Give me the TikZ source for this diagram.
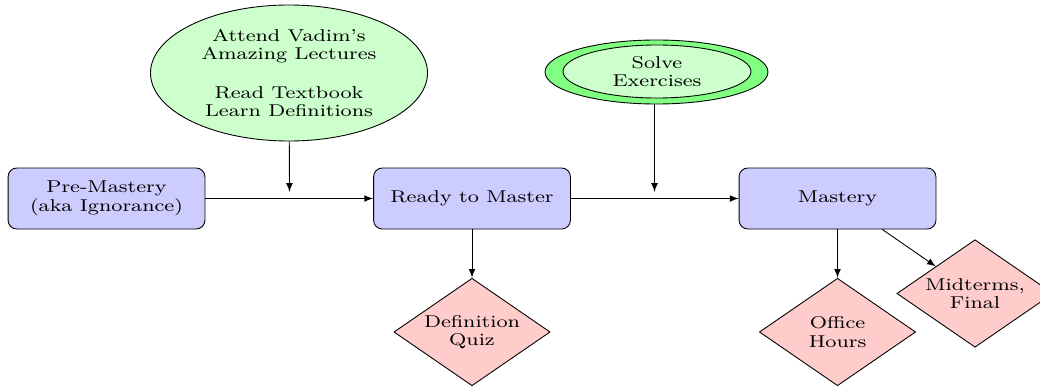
\documentclass[tikz,border=0pt]{standalone}
\usepackage{fontspec}
\setmainfont{lmroman8-regular.otf}[FakeStretch=1.22]
\usetikzlibrary{shapes.geometric}

\begin{document}
\begin{tikzpicture}[font=\fontsize{7.8}{8.4}\selectfont, >=latex,
    box/.style={draw, rounded corners, fill=blue!20, minimum width=3.15cm, minimum height=0.976cm, align=center},
    bubble/.style={draw, ellipse, fill=green!20, inner sep=0pt, align=center},
    check/.style={draw, diamond, aspect=1.45, fill=red!20, inner sep=0pt, minimum width=2.5cm, minimum height=1.72cm, align=center}]
    \useasboundingbox (0,0) rectangle (16.64,-6.192);
    \coordinate (m1) at (4.632,-3.072); \coordinate (m2) at (10.472,-3.072);

    % Stages
    \node[box] (pre) at (1.704,-3.176) {Pre-Mastery\\(aka Ignorance)};
    \node[box] (ready) at (7.552,-3.176) {Ready to Master};
    \node[box] (mastery) at (13.4,-3.176) {Mastery};

    % What moves you along
    \node[bubble, minimum width=4.432cm, minimum height=2.176cm] (lect) at (4.624,-1.168) {Attend Vadim's\\Amazing Lectures\\[9pt]Read Textbook\\Learn Definitions};
    \node[bubble, fill=green!50, minimum width=3.568cm, minimum height=1.024cm] (solveout) at (10.504,-1.152) {};
    \node[bubble, minimum width=3.008cm, minimum height=0.848cm] (solve) at (10.512,-1.144) {Solve\\Exercises};

    % Checks
    \node[check] (quiz) at (7.552,-5.312) {Definition\\Quiz};
    \node[check] (office) at (13.4,-5.312) {Office\\Hours};
    \node[check] (midterm) at (15.6,-4.696) {Midterms,\\Final};

    % Flow
    \draw[->] (pre) -- (ready);
    \draw[->] (ready) -- (mastery);
    \draw[->] (lect) -- (m1);
    \draw[->] (solveout.south -| m2) -- (m2);
    \draw[->] (ready) -- (quiz);
    \draw[->] (mastery) -- (office);
    \draw[->] (mastery) -- (midterm);
\end{tikzpicture}
\end{document}
